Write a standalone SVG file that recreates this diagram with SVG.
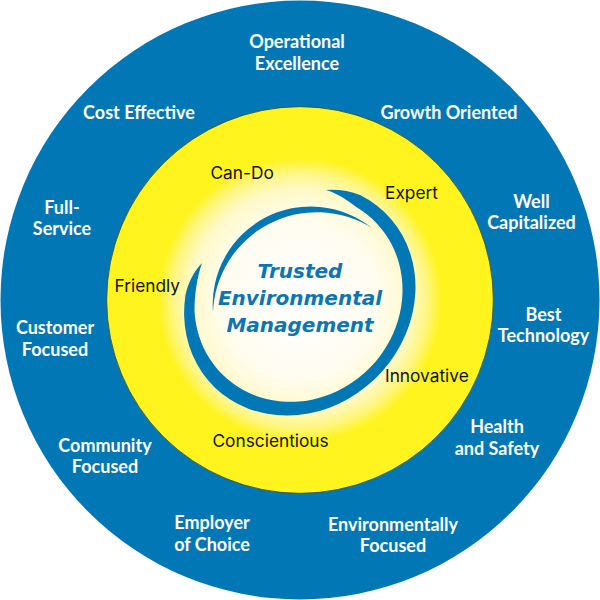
<svg xmlns="http://www.w3.org/2000/svg" width="600" height="600" viewBox="0 0 600 600">
  <defs>
    <radialGradient id="glow" cx="300" cy="300" r="142" gradientUnits="userSpaceOnUse">
      <stop offset="0" stop-color="#ffffff"/>
      <stop offset="0.55" stop-color="#fffdf0"/>
      <stop offset="0.78" stop-color="#fff9c8"/>
      <stop offset="0.9" stop-color="#fff680"/>
      <stop offset="1" stop-color="#fff41e"/>
    </radialGradient>
    <style>
      .outer { font-family: Lato, "Open Sans", "DejaVu Sans", sans-serif; font-weight: bold; font-size: 18px; fill: #ffffff; text-anchor: middle; }
      .inner { font-family: Inter, Roboto, "Liberation Sans", sans-serif; font-size: 17.3px; fill: #111111; }
      .center { font-family: "DejaVu Sans", Verdana, sans-serif; font-weight: bold; font-style: italic; font-size: 20px; fill: #0a76b5; text-anchor: middle; }
      .swirl { fill: #0277b5; }
    </style>
  </defs>

  <g id="rings">
    <circle cx="300" cy="300" r="299.5" fill="#0277b5"/>
    <circle cx="300" cy="300" r="193.3" fill="#fff41e" stroke="#2b4a3c" stroke-width="0.8"/>
    <circle cx="300" cy="300" r="142" fill="url(#glow)"/>
  </g>

  <g id="swirl">
    <path class="swirl" d="M326,190 Q345,189 360,195 A122,109 -45 1 1 185.5,295 C188,283 194,271 202,263 C197,277 194.5,295 194.5,311 A108,100 -45 1 0 357,207.5 C347,200 337,193 326,190 Z"/>
    <path class="swirl" d="M213,312 A98,98 0 0 1 372,228 A104,104 0 0 0 213,312 Z"/>
  </g>

  <g id="core">
    <text class="center" x="300" y="278">Trusted</text>
    <text class="center" x="300" y="305">Environmental</text>
    <text class="center" x="300" y="332">Management</text>
  </g>

  <g id="values">
    <g id="can-do"><text class="inner" x="210.5" y="179">Can-Do</text></g>
    <g id="expert"><text class="inner" x="385" y="199">Expert</text></g>
    <g id="friendly"><text class="inner" x="114.5" y="292">Friendly</text></g>
    <g id="innovative"><text class="inner" x="385" y="382">Innovative</text></g>
    <g id="conscientious"><text class="inner" x="212.5" y="447">Conscientious</text></g>
  </g>

  <g id="attributes">
    <g id="operational-excellence">
      <text class="outer" x="297" y="48">Operational</text>
      <text class="outer" x="297" y="70">Excellence</text>
    </g>
    <g id="cost-effective"><text class="outer" x="139" y="119">Cost Effective</text></g>
    <g id="growth-oriented"><text class="outer" x="449" y="119">Growth Oriented</text></g>
    <g id="full-service">
      <text class="outer" x="62" y="214">Full-</text>
      <text class="outer" x="62" y="235">Service</text>
    </g>
    <g id="well-capitalized">
      <text class="outer" x="531.5" y="208">Well</text>
      <text class="outer" x="531.5" y="229">Capitalized</text>
    </g>
    <g id="best-technology">
      <text class="outer" x="543.5" y="321">Best</text>
      <text class="outer" x="543.5" y="342">Technology</text>
    </g>
    <g id="customer-focused">
      <text class="outer" x="55" y="334">Customer</text>
      <text class="outer" x="55" y="356">Focused</text>
    </g>
    <g id="health-safety">
      <text class="outer" x="497" y="433">Health</text>
      <text class="outer" x="497" y="455">and Safety</text>
    </g>
    <g id="community-focused">
      <text class="outer" x="105" y="452">Community</text>
      <text class="outer" x="105" y="473">Focused</text>
    </g>
    <g id="employer-of-choice">
      <text class="outer" x="212" y="529">Employer</text>
      <text class="outer" x="212" y="551">of Choice</text>
    </g>
    <g id="environmentally-focused">
      <text class="outer" x="393" y="531">Environmentally</text>
      <text class="outer" x="393" y="552">Focused</text>
    </g>
  </g>

  <g id="connectors"/>
</svg>
